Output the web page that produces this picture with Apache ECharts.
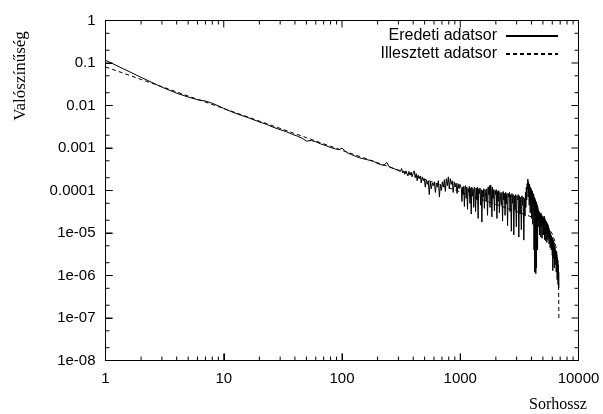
<!DOCTYPE html>
<html><head><meta charset="utf-8">
<script src="https://cdn.jsdelivr.net/npm/echarts@6/dist/echarts.min.js"></script>
<style>html,body{margin:0;padding:0;background:#fff}#c{width:603px;height:414px}</style>
</head><body><div id="c"></div>
<script>
// ---- tick labels ----
const xTickLabels = ['1', '10', '100', '1000', '10000'];            // index = exponent
const yTickLabels = ['1', '0.1', '0.01', '0.001', '0.0001', '1e-05', '1e-06', '1e-07', '1e-08']; // index = -exponent

// ---- original data (Eredeti adatsor): [Sorhossz, Valószínűség] ----
const origSmooth = [
  [1,0.116],[2,0.046],[3,0.027],[4,0.0195],[5,0.0158],[6,0.0137],[7,0.0127],[8,0.0113],[9,0.0098],[10,0.0085],
  [12,0.0069],[14,0.0059],[16,0.0052],[18,0.0046],[20,0.0041],[23,0.0036],[26,0.0031],[30,0.0027],[34,0.0024],[38,0.0021],
  [42,0.0019],[46,0.0017],[50,0.00145],[55,0.0015],[60,0.0014],[66,0.00125],[72,0.00115],[80,0.00103],[88,0.00095],[95,0.00092],
  [100,0.001],[105,0.00088],[110,0.00078],[120,0.0007],[130,0.00064],[140,0.00059],
  [150,5.6e-4],[155,5.1e-4],[160,5.4e-4],[166,4.9e-4],[172,5.1e-4],[178,4.6e-4],[184,4.9e-4],[190,4.5e-4],[197,4.4e-4],[204,4.7e-4],
  [211,4.1e-4],[218,4.4e-4],[225,3.9e-4],[232,4.2e-4],[240,4.6e-4],[248,3.7e-4],[256,3.9e-4],[264,3.4e-4],[272,3.7e-4],[280,3.2e-4],
  [288,3.5e-4],[296,3.0e-4]
];
const origMid = [
  [305,3.1e-4],[312,2.8e-4],[319,3.3e-4],[326,2.6e-4],[333,2.9e-4],[340,2.4e-4],[347,2.9e-4],[354,2.7e-4],[361,2.2e-4],[368,2.8e-4],
  [376,2.3e-4],[384,2.7e-4],[392,2.1e-4],[400,2.6e-4],[408,2.9e-4],[416,2.0e-4],[424,2.5e-4],[432,1.7e-4],[441,2.3e-4],[450,1.9e-4],
  [459,2.2e-4],[468,1.5e-4],[477,2.1e-4],[486,1.7e-4],[496,1.9e-4],[506,1.2e-4],[516,1.8e-4],[526,1.4e-4],[536,1.7e-4],[547,8.0e-5],
  [558,1.6e-4],[569,1.1e-4],[580,1.5e-4],[592,1.3e-4],[604,1.6e-4],[616,9.0e-5],[628,1.5e-4],[640,1.2e-4],[653,1.7e-4],[666,7.0e-5],
  [679,1.4e-4],[692,1.0e-4],[706,1.6e-4],[720,1.2e-4],[734,1.8e-4],[748,9.5e-5],[763,1.9e-4],[778,1.3e-4],[793,2.1e-4],[808,1.1e-4],
  [824,1.9e-4],[840,1.4e-4],[856,1.7e-4],[872,9.0e-5],[889,1.6e-4],[906,1.2e-4],[923,1.5e-4],[940,8.5e-5],[958,1.45e-4],[976,1.1e-4],
  [994,1.4e-4]
];
const origBand = [
  [1010,1.3e-4],[1022,1.1e-4],[1034,5.5e-5],[1046,1.2e-4],[1058,8.0e-5],[1071,1.25e-4],[1084,4.2e-5],[1097,1.15e-4],[1110,1.3e-4],[1123,6.5e-5],
  [1137,1.2e-4],[1151,3.6e-5],[1165,1.1e-4],[1179,9.0e-5],[1193,1.25e-4],[1208,5.0e-5],[1223,1.15e-4],[1238,2.8e-5],[1253,1.2e-4],[1268,7.5e-5],
  [1284,1.1e-4],[1300,4.0e-5],[1316,1.2e-4],[1332,1.05e-4],[1348,3.2e-5],[1365,1.15e-4],[1382,6.0e-5],[1399,1.2e-4],[1416,2.2e-5],[1433,1.1e-4],
  [1451,8.5e-5],[1469,1.15e-4],[1487,4.5e-5],[1505,1.05e-4],[1524,1.8e-5],[1543,1.0e-4],[1562,7.0e-5],[1581,1.1e-4],[1600,3.8e-5],[1620,1.05e-4],
  [1640,1.15e-4],[1660,5.5e-5],[1680,1.1e-4],[1701,2.6e-5],[1722,1.2e-4],[1743,8.0e-5],[1764,1.3e-4],[1786,4.0e-5],[1808,1.35e-4],[1830,1.1e-4],
  [1852,2.4e-5],[1875,1.2e-4],[1898,6.5e-5],[1921,1.05e-4],[1945,3.3e-5],[1969,1.0e-4],[1993,8.0e-5],[2017,1.05e-4],[2042,2.2e-5],[2067,9.5e-5],
  [2092,5.5e-5],[2118,1.0e-4],[2144,3.0e-5],[2170,9.0e-5],[2197,9.5e-5],[2224,4.5e-5],[2251,9.0e-5],[2279,1.9e-5],[2307,9.5e-5],[2335,6.0e-5],
  [2364,8.5e-5],[2393,2.6e-5],[2422,9.0e-5],[2452,4.8e-5],[2482,8.5e-5],[2512,1.5e-5],[2543,8.5e-5],[2574,7.0e-5],[2606,9.0e-5],[2638,3.2e-5],
  [2670,8.0e-5],[2703,1.1e-5],[2736,8.5e-5],[2770,5.0e-5],[2804,8.0e-5],[2838,9.0e-6],[2873,7.5e-5],[2908,3.5e-5],[2944,8.0e-5],[2980,1.4e-5],
  [3017,7.5e-5],[3054,6.0e-5],[3091,8.0e-5],[3129,8.0e-6],[3167,7.5e-5],[3206,2.8e-5],[3245,7.0e-5],[3285,1.2e-5],[3325,7.5e-5],[3366,4.5e-5],
  [3407,7.0e-5],[3449,6.8e-6],[3491,6.5e-5]
];
const origTail = [
  [3530,2.5e-5],[3560,9.0e-5],[3590,4.0e-5],[3620,1.2e-4],[3650,6.0e-5],[3680,1.45e-4],[3705,1.1e-4],[3730,1.85e-4],[3755,7.0e-5],[3780,1.6e-4],
  [3805,1.3e-4],[3830,4.5e-5],[3855,1.4e-4],[3880,1.1e-4],[3905,3.0e-5],[3930,1.2e-4],[3955,6.0e-5],[3980,1.1e-4],[4005,2.2e-5],[4030,1.0e-4],
  [4055,7.0e-5],[4080,9.5e-5],[4105,1.6e-5],[4130,8.5e-5],[4155,5.0e-5],[4180,8.0e-5],[4205,4.0e-6],[4230,7.0e-5],[4255,1.2e-6],[4280,6.5e-5],
  [4305,3.5e-5],[4330,6.0e-5],[4355,1.1e-6],[4380,5.5e-5],[4405,1.5e-6],[4430,5.0e-5],[4455,2.2e-5],[4480,4.5e-5],[4505,4.0e-6],[4530,4.0e-5],
  [4560,1.4e-5],[4590,3.5e-5],[4620,2.0e-5],[4650,3.2e-5],[4680,9.0e-6],[4710,3.0e-5],[4740,1.6e-5],[4770,2.8e-5],[4800,8.0e-6],[4830,2.9e-5],
  [4860,1.4e-5],[4890,2.6e-5],[4920,7.5e-6],[4950,2.5e-5],[4980,1.5e-5],[5010,2.4e-5],[5040,9.0e-6],[5070,2.2e-5],[5100,1.3e-5],[5130,2.5e-5],
  [5160,7.0e-6],[5190,2.2e-5],[5220,1.2e-5],[5250,2.0e-5],[5280,6.5e-6],[5310,1.9e-5],[5340,1.1e-5],[5370,1.8e-5],[5400,6.0e-6],[5430,1.7e-5],
  [5460,9.5e-6],[5490,1.6e-5],[5520,7.0e-6],[5550,1.5e-5],[5580,8.0e-6],[5610,1.3e-5],[5640,5.5e-6],[5670,1.2e-5],[5700,7.5e-6],[5730,1.1e-5],
  [5760,4.5e-6],[5790,1.0e-5],[5820,6.0e-6],[5850,9.0e-6],[5880,4.0e-6],[5910,8.5e-6],[5940,5.0e-6],[5970,8.0e-6],[6000,3.0e-6],[6030,7.5e-6],
  [6060,1.3e-6],[6090,7.0e-6],[6120,3.5e-6],[6150,6.5e-6],[6180,2.5e-6],[6210,6.0e-6],[6240,1.5e-6],[6270,5.0e-6],[6300,3.0e-6],[6330,4.5e-6],
  [6360,1.8e-6],[6390,4.0e-6],[6420,2.2e-6],[6450,3.8e-6],[6480,1.2e-6],[6510,3.5e-6],[6540,1.6e-6],[6570,3.0e-6],[6600,8.0e-7],[6630,2.6e-6],
  [6660,1.0e-6],[6690,2.3e-6],[6720,6.0e-7],[6750,1.8e-6],[6780,5.5e-7],[6800,1.2e-6],[6830,5.0e-7]
];

// ---- fitted data (Illesztett adatsor) ----
const fitLen  = [1, 2, 3, 5, 10, 20, 50, 100, 200, 500, 1000, 2000, 3000, 4000, 5000, 5500, 6000, 6300, 6500, 6650, 6750, 6800, 6830];
const fitProb = [0.081, 0.041, 0.0277, 0.0167, 0.0085, 0.0043, 0.00175, 0.00088, 0.00045, 0.000183, 9.3e-5, 4.7e-5, 3.2e-5, 2.4e-5, 1.75e-5, 1.4e-5, 9.5e-6, 6.5e-6, 4.2e-6, 2.3e-6, 9e-7, 3e-7, 8.5e-8];

// ---- axis range and tick values ----
const xRange = [1, 10000];
const yRange = [1e-8, 1];
const xMajor = [10, 100, 1000];
const yMajor = [1e-7, 1e-6, 1e-5, 1e-4, 1e-3, 1e-2, 1e-1];
const xMinor = [];
for (let e = 0; e < 4; e++) for (let k = 2; k <= 9; k++) xMinor.push(k * Math.pow(10, e));
const yMinor = [];
for (let e = -8; e < 0; e++) for (const k of [2, 5]) yMinor.push(k * Math.pow(10, e));

// layout
const W = 603, H = 414, gL = 105.5, gR = 24.5, gT = 20.5, gB = 53.5;
const pxPerDecX = (W - gL - gR) / Math.log10(xRange[1] / xRange[0]);
const pxPerDecY = (H - gT - gB) / Math.log10(yRange[1] / yRange[0]);

// tick segments (inner ticks on all four sides), expressed in axis units
const seg = [];
const addX = (v, len) => seg.push([v, yRange[0]], [v, yRange[0] * Math.pow(10, len / pxPerDecY)], null,
                                   [v, yRange[1]], [v, yRange[1] / Math.pow(10, len / pxPerDecY)], null);
const addY = (v, len) => seg.push([xRange[0], v], [xRange[0] * Math.pow(10, len / pxPerDecX), v], null,
                                   [xRange[1], v], [xRange[1] / Math.pow(10, len / pxPerDecX), v], null);
xMajor.forEach(v => addX(v, 7));
xMinor.forEach(v => addX(v, 4));
yMajor.forEach(v => addY(v, 7));
yMinor.forEach(v => addY(v, 4));
const frame = [[xRange[0], yRange[0]], [xRange[1], yRange[0]], [xRange[1], yRange[1]], [xRange[0], yRange[1]], [xRange[0], yRange[0]]];

const labelFont = {fontFamily: '"Liberation Sans", Arial, sans-serif', fontSize: 15, color: '#000'};
const legendCommon = {align: 'right', orient: 'vertical', padding: 0, itemWidth: 52, itemHeight: 14,
  itemStyle: {opacity: 0},
  textStyle: {fontFamily: '"Liberation Sans", Arial, sans-serif', fontSize: 16, color: '#000', padding: [0, 4, 0, 0]}};
const axisCommon = {type: 'log', axisLine: {show: true, onZero: false, lineStyle: {color: '#000', width: 1}},
  axisTick: {show: true, inside: true, length: 7, lineStyle: {color: '#000', width: 1}}, splitLine: {show: false}};

const option = {
  animation: false,
  backgroundColor: '#fff',
  grid: {left: gL, right: gR, top: gT, bottom: gB, show: true, borderColor: '#000', borderWidth: 1},
  xAxis: Object.assign({min: xRange[0], max: xRange[1],
    axisLabel: Object.assign({margin: 11, formatter: v => xTickLabels[Math.round(Math.log10(v))]}, labelFont)}, axisCommon),
  yAxis: Object.assign({min: yRange[0], max: yRange[1],
    axisLabel: Object.assign({margin: 10, formatter: v => yTickLabels[-Math.round(Math.log10(v))]}, labelFont)}, axisCommon),
  legend: [
    Object.assign({data: ['Eredeti adatsor'], right: 44, top: 28}, legendCommon),
    Object.assign({data: ['Illesztett adatsor'], right: 44, top: 46}, legendCommon)
  ],
  graphic: [
    {type: 'text', x: 21, y: 76, rotation: Math.PI / 2,
     style: {text: 'Valószínűség', font: '17px "Liberation Serif", serif', fill: '#000', align: 'center', verticalAlign: 'middle', textAlign: 'center', textVerticalAlign: 'middle'}},
    {type: 'text', x: 558, y: 405,
     style: {text: 'Sorhossz', font: '16px "Liberation Serif", serif', fill: '#000', align: 'center', verticalAlign: 'middle', textAlign: 'center', textVerticalAlign: 'middle'}}
  ],
  series: [
    {name: 'Eredeti adatsor', type: 'line', showSymbol: false, symbol: 'none',
     lineStyle: {color: '#000', width: 1}, itemStyle: {color: '#000'},
     data: origSmooth.concat(origMid, origBand, origTail)},
    {name: 'Illesztett adatsor', type: 'line', showSymbol: false, symbol: 'none',
     lineStyle: {color: '#000', width: 1, type: [4, 3]}, itemStyle: {color: '#000'},
     data: fitLen.map((x, i) => [x, fitProb[i]])},
    {type: 'line', silent: true, clip: false, showSymbol: false, symbol: 'none', connectNulls: false, z: 4,
     lineStyle: {color: '#000', width: 1}, data: seg},
    {type: 'line', silent: true, clip: false, showSymbol: false, symbol: 'none', z: 4,
     lineStyle: {color: '#000', width: 1}, data: frame}
  ]
};

const chart = echarts.init(document.getElementById('c'));
chart.setOption(option);
setTimeout(() => { chart.setOption(option, true); }, 60);
</script>
</body></html>
